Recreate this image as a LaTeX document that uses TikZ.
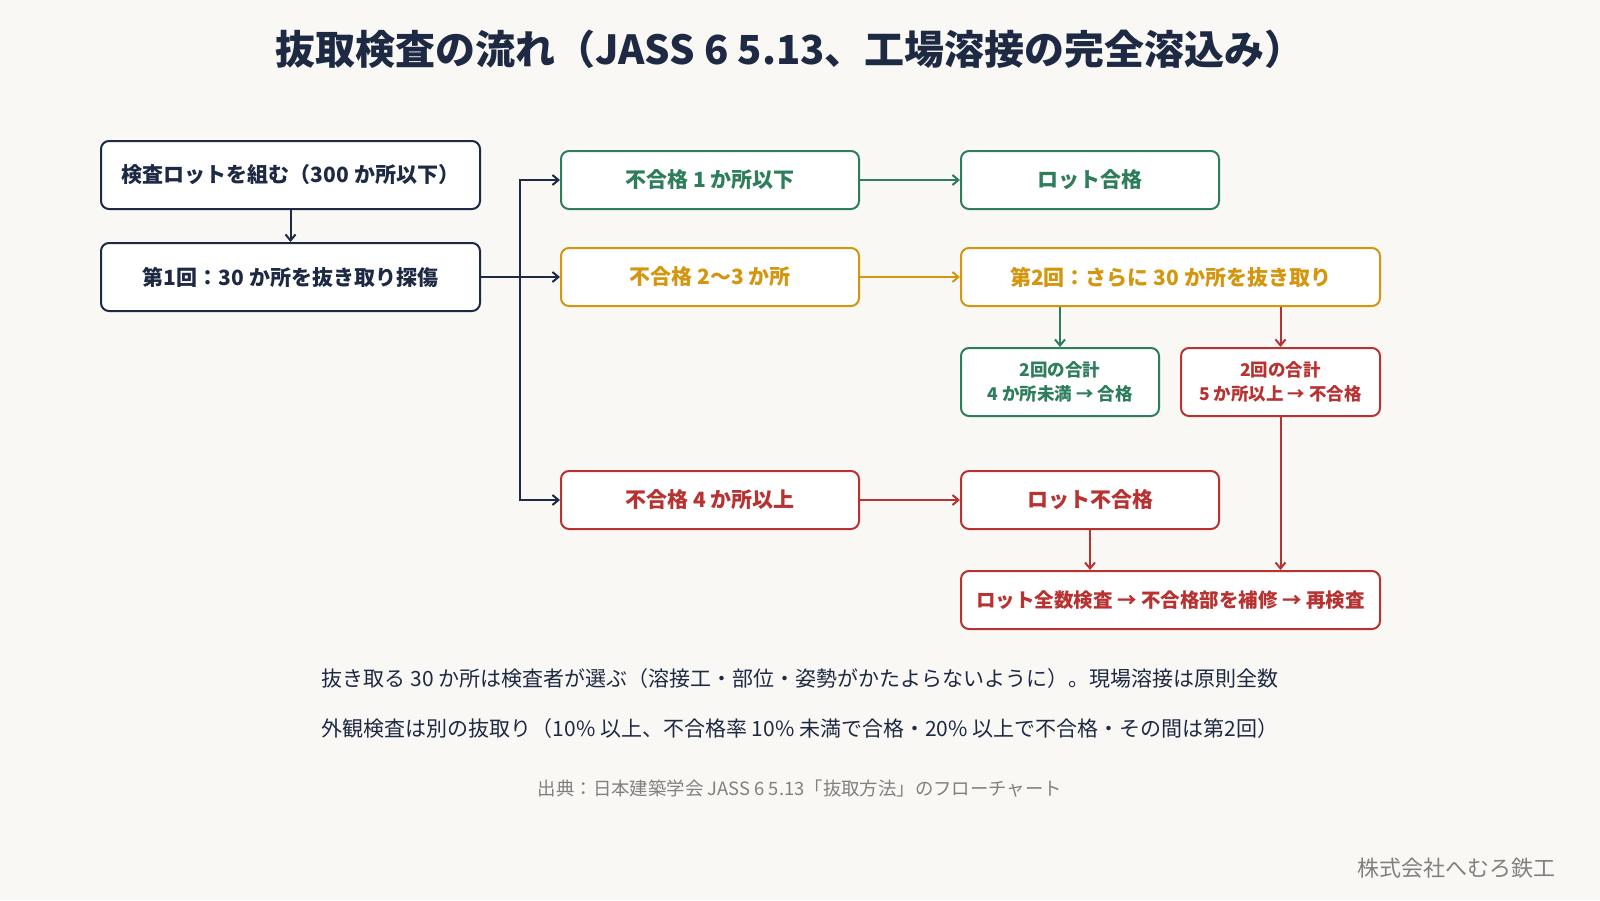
\documentclass[tikz,border=0pt]{standalone}
\usepackage{fontspec}
\setmainfont{Noto Sans CJK JP}
\usetikzlibrary{arrows.meta}
\definecolor{navy}{HTML}{1E2A44}
\definecolor{grn}{HTML}{2E7D5B}
\definecolor{org}{HTML}{D4960F}
\definecolor{red}{HTML}{B83232}
\definecolor{bg}{HTML}{F9F8F4}
\begin{document}
\begin{tikzpicture}[x=1pt,y=-1pt,
 box/.style={draw=#1,text=#1,line width=2pt,rounded corners=8pt,fill=white,font=\fontsize{21}{24}\selectfont\bfseries,align=center,inner sep=0pt},
 arr/.style={draw=#1,line width=2pt,-{Straight Barb[length=6pt,width=10pt]}},
 ln/.style={draw=#1,line width=2pt}]
\fill[bg] (0,0) rectangle (1600,900);
\node[text=navy,font=\fontsize{40}{44}\selectfont\bfseries] (title) at (790,49) {抜取検査の流れ（JASS 6 5.13、工場溶接の完全溶込み）};
\node[box=navy,minimum width=379pt,minimum height=68pt] (b1) at (290.5,175) {検査ロットを組む（300 か所以下）};
\node[box=navy,minimum width=379pt,minimum height=68pt] (b2) at (290.5,277) {第1回：30 か所を抜き取り探傷};
\node[box=grn,minimum width=298pt,minimum height=58pt] (g1) at (710,180) {不合格 1 か所以下};
\node[box=grn,minimum width=258pt,minimum height=58pt] (ok) at (1090,180) {ロット合格};
\node[box=org,minimum width=298pt,minimum height=58pt] (o1) at (710,277) {不合格 2〜3 か所};
\node[box=org,minimum width=419pt,minimum height=58pt] (s2) at (1170.5,277) {第2回：さらに 30 か所を抜き取り};
\node[box=grn,minimum width=198pt,minimum height=68pt,font=\fontsize{17.5}{24}\selectfont\bfseries] (gs) at (1060,382) {2回の合計\\4 か所未満 → 合格};
\node[box=red,minimum width=199pt,minimum height=68pt,font=\fontsize{17.5}{24}\selectfont\bfseries] (rs) at (1280.5,382) {2回の合計\\5 か所以上 → 不合格};
\node[box=red,minimum width=298pt,minimum height=58pt] (r1) at (710,500) {不合格 4 か所以上};
\node[box=red,minimum width=258pt,minimum height=58pt] (ng) at (1090,500) {ロット不合格};
\node[box=red,minimum width=419pt,minimum height=58pt,font=\fontsize{19.5}{24}\selectfont\bfseries] (all) at (1170.5,600) {ロット全数検査 → 不合格部を補修 → 再検査};
\coordinate (br) at (520,277);
\draw[arr=navy] (b1) -- (b2);
\draw[ln=navy] (b2) -- (br);
\draw[arr=navy] (br) |- (g1.west);
\draw[arr=navy] (br) -- (o1.west);
\draw[arr=navy] (br) |- (r1.west);
\draw[arr=grn] (g1) -- (ok);
\draw[arr=org] (o1) -- (s2);
\draw[arr=red] (r1) -- (ng);
\draw[arr=grn] (s2.south -| gs.north) -- (gs.north);
\draw[arr=red] (s2.south -| rs.north) -- (rs.north);
\draw[arr=red] (rs.south) -- (rs.south |- all.north);
\draw[arr=red] (ng.south) -- (ng.south |- all.north);
\node[text=navy,font=\fontsize{21}{24}\selectfont] (n1) at (800,679) {抜き取る 30 か所は検査者が選ぶ（溶接工・部位・姿勢がかたよらないように）。現場溶接は原則全数};
\node[text=navy,font=\fontsize{21}{24}\selectfont] (n2) at (800,729) {外観検査は別の抜取り（10\% 以上、不合格率 10\% 未満で合格・20\% 以上で不合格・その間は第2回）};
\node[text=gray,font=\fontsize{18.4}{22}\selectfont] (src) at (800,789) {出典：日本建築学会 JASS 6 5.13「抜取方法」のフローチャート};
\node[text=gray,font=\fontsize{22}{26}\selectfont,anchor=east] (sig) at (1559,868) {株式会社へむろ鉄工};
\end{tikzpicture}
\end{document}
